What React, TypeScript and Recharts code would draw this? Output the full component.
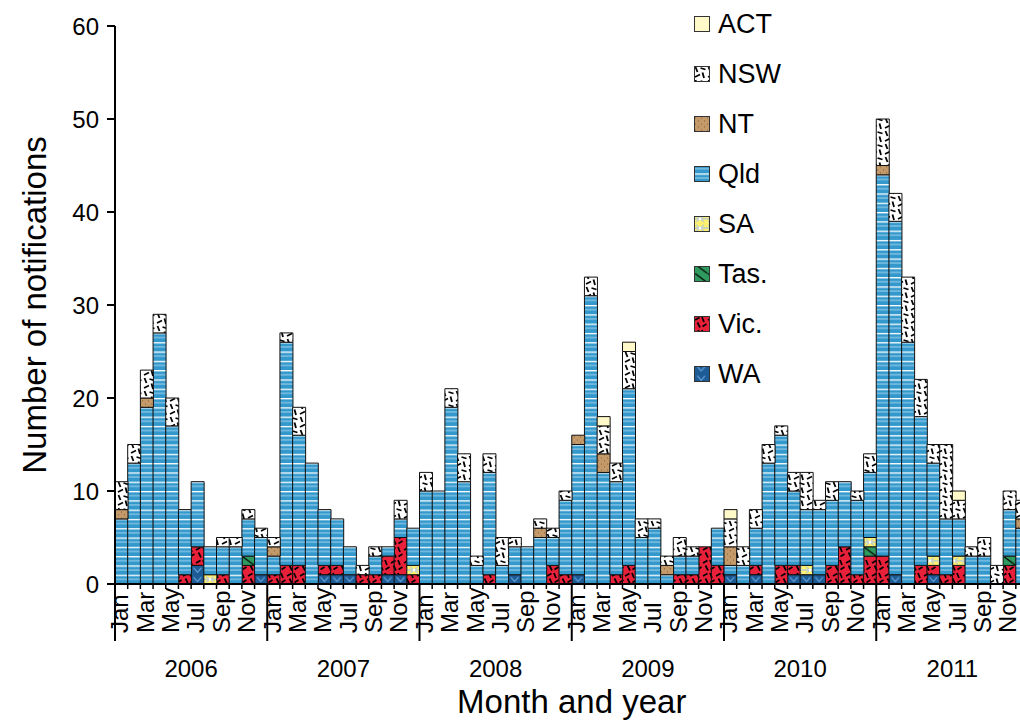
import { BarChart, Bar, XAxis, YAxis, Legend } from 'recharts'

const FONT = '"Liberation Sans", Arial, sans-serif'

const years = ['2006', '2007', '2008', '2009', '2010', '2011']
const monthNames = ['Jan', 'Feb', 'Mar', 'Apr', 'May', 'Jun', 'Jul', 'Aug', 'Sep', 'Oct', 'Nov', 'Dec']
const yTicks = [0, 10, 20, 30, 40, 50, 60]

// notifications per month, Jan 2006 .. Dec 2011 (one row per year)
const wa = [
  0, 0, 0, 0, 0, 0, 2, 0, 0, 0, 0, 1,
  0, 0, 0, 0, 1, 1, 1, 0, 0, 1, 1, 0,
  0, 0, 0, 0, 0, 0, 0, 1, 0, 0, 0, 0,
  1, 0, 0, 0, 0, 0, 0, 0, 0, 0, 0, 0,
  1, 0, 1, 0, 0, 1, 1, 1, 0, 0, 0, 0,
  0, 1, 0, 0, 1, 0, 0, 0, 0, 0, 0, 0,
]
const vic = [
  0, 0, 0, 0, 0, 1, 2, 0, 1, 0, 2, 0,
  1, 2, 2, 0, 1, 1, 0, 1, 1, 2, 4, 1,
  0, 0, 0, 0, 0, 1, 0, 0, 0, 0, 2, 1,
  0, 0, 0, 1, 2, 0, 0, 0, 1, 1, 4, 2,
  0, 0, 1, 0, 2, 1, 0, 0, 2, 4, 1, 3,
  3, 0, 0, 2, 1, 1, 2, 0, 0, 0, 2, 0,
]
const tas = [
  0, 0, 0, 0, 0, 0, 0, 0, 0, 0, 1, 0,
  0, 0, 0, 0, 0, 0, 0, 0, 0, 0, 0, 0,
  0, 0, 0, 0, 0, 0, 0, 0, 0, 0, 0, 0,
  0, 0, 0, 0, 0, 0, 0, 0, 0, 0, 0, 0,
  0, 0, 0, 0, 0, 0, 0, 0, 0, 0, 0, 1,
  0, 0, 0, 0, 0, 0, 0, 0, 0, 0, 1, 0,
]
const sa = [
  0, 0, 0, 0, 0, 0, 0, 1, 0, 0, 0, 0,
  0, 0, 0, 0, 0, 0, 0, 0, 0, 0, 0, 1,
  0, 0, 0, 0, 0, 0, 0, 0, 0, 0, 0, 0,
  0, 0, 0, 0, 0, 0, 0, 0, 0, 0, 0, 0,
  0, 0, 0, 0, 0, 0, 1, 0, 0, 0, 0, 1,
  0, 0, 0, 0, 1, 0, 1, 0, 0, 0, 0, 0,
]
const qld = [
  7, 13, 19, 27, 17, 7, 7, 3, 3, 4, 4, 4,
  2, 24, 14, 13, 6, 5, 3, 0, 2, 1, 2, 4,
  10, 10, 19, 11, 2, 11, 2, 3, 4, 5, 3, 8,
  14, 31, 12, 10, 19, 5, 6, 1, 2, 2, 0, 4,
  1, 2, 4, 13, 14, 8, 6, 7, 7, 7, 8, 7,
  41, 38, 26, 16, 10, 6, 4, 3, 3, 0, 5, 6,
]
const nt = [
  1, 0, 1, 0, 0, 0, 0, 0, 0, 0, 0, 0,
  1, 0, 0, 0, 0, 0, 0, 0, 0, 0, 0, 0,
  0, 0, 0, 0, 0, 0, 0, 0, 0, 1, 0, 0,
  1, 0, 2, 0, 0, 0, 0, 1, 0, 0, 0, 0,
  2, 0, 0, 0, 0, 0, 0, 0, 0, 0, 0, 0,
  1, 0, 0, 0, 0, 0, 0, 0, 0, 0, 0, 1,
]
const nsw = [
  3, 2, 3, 2, 3, 0, 0, 0, 1, 1, 1, 1,
  1, 1, 3, 0, 0, 0, 0, 1, 1, 0, 2, 0,
  2, 0, 2, 3, 1, 2, 3, 1, 0, 1, 1, 1,
  0, 2, 3, 2, 4, 2, 1, 1, 2, 1, 0, 0,
  3, 2, 2, 2, 1, 2, 4, 1, 2, 0, 1, 2,
  5, 3, 7, 4, 2, 8, 2, 1, 2, 2, 2, 2,
]
const act = [
  0, 0, 0, 0, 0, 0, 0, 0, 0, 0, 0, 0,
  0, 0, 0, 0, 0, 0, 0, 0, 0, 0, 0, 0,
  0, 0, 0, 0, 0, 0, 0, 0, 0, 0, 0, 0,
  0, 0, 1, 0, 1, 0, 0, 0, 0, 0, 0, 0,
  1, 0, 0, 0, 0, 0, 0, 0, 0, 0, 0, 0,
  0, 0, 0, 0, 0, 0, 1, 0, 0, 0, 0, 0,
]

// bottom to top
const series = [
  { key: 'wa', name: 'WA', values: wa, fill: 'url(#pWA)' },
  { key: 'vic', name: 'Vic.', values: vic, fill: 'url(#pVic)' },
  { key: 'tas', name: 'Tas.', values: tas, fill: 'url(#pTas)' },
  { key: 'sa', name: 'SA', values: sa, fill: 'url(#pSA)' },
  { key: 'qld', name: 'Qld', values: qld, fill: 'url(#pQld)' },
  { key: 'nt', name: 'NT', values: nt, fill: 'url(#pNT)' },
  { key: 'nsw', name: 'NSW', values: nsw, fill: 'url(#pNSW)' },
  { key: 'act', name: 'ACT', values: act, fill: '#fff8c8' },
]

const data = years.flatMap((y, yi) =>
  monthNames.map((m, mi) => {
    const i = yi * 12 + mi
    const row: Record<string, any> = { key: `${m} ${y}` }
    series.forEach((s) => (row[s.key] = s.values[i]))
    return row
  })
)

// layout
const CHART_W = 1032
const CHART_H = 720
const Y_W = 115
const TOP = 26
const RIGHT = 3.5
const X_H = 136
const PLOT_W = CHART_W - Y_W - RIGHT
const BAND = PLOT_W / data.length
const BASE_Y = CHART_H - X_H
const UNIT = (BASE_Y - TOP) / 60

function MonthTick({ x, y, payload }: any) {
  const i = payload.index
  const m = i % 12
  const left = x - BAND / 2
  return (
    <g>
      <line x1={left} y1={y} x2={left} y2={y + (m === 0 ? 57 : 5)} stroke="#000" strokeWidth={m === 0 ? 2 : 1.5} />
      {m % 2 === 0 && (
        <text
          transform={`translate(${x + 7},${y + 49}) rotate(-90)`}
          textAnchor="start"
          fontSize={24}
          fontFamily={FONT}
          fill="#000"
        >
          {monthNames[m]}
        </text>
      )}
      {m === 5 && (
        <text x={x + BAND / 2} y={y + 93} textAnchor="middle" fontSize={24} fontFamily={FONT} fill="#000">
          {years[Math.floor(i / 12)]}
        </text>
      )}
    </g>
  )
}

const xTitle = (props: any) => {
  const vb = props.viewBox
  return (
    <text x={vb.x + vb.width / 2} y={vb.y + 129} textAnchor="middle" fontSize={33} fontFamily={FONT} fill="#000">
      Month and year
    </text>
  )
}

const yTitle = (props: any) => {
  const vb = props.viewBox
  return (
    <text
      transform={`translate(${vb.x + 46},${vb.y + vb.height / 2}) rotate(-90)`}
      textAnchor="middle"
      fontSize={33}
      fontFamily={FONT}
      fill="#000"
    >
      Number of notifications
    </text>
  )
}

function LegendBox() {
  return (
    <div style={{ fontFamily: FONT, fontSize: 27, color: '#000' }}>
      {[...series].reverse().map((s) => (
        <div key={s.key} style={{ display: 'flex', alignItems: 'center', height: 50 }}>
          <svg width={16} height={16} style={{ marginRight: 8 }}>
            <rect x={0.5} y={0.5} width={15} height={15} fill={s.fill} stroke="#333" strokeWidth={1} />
          </svg>
          <span>{s.name}</span>
        </div>
      ))}
    </div>
  )
}

export default function App() {
  return (
    <div style={{ position: 'absolute', left: 0, top: 0, width: 1020, height: 720, overflow: 'hidden', background: '#fff' }}>
      <BarChart
        width={CHART_W}
        height={CHART_H}
        data={data}
        margin={{ top: TOP, right: RIGHT, left: 0, bottom: 0 }}
        barCategoryGap={0}
        barGap={0}
      >
        <defs>
          <pattern id="pQld" patternUnits="userSpaceOnUse" width={8} height={UNIT} y={BASE_Y}>
            <rect width={8} height={UNIT} fill="#3399cc" />
            <rect y={0} width={8} height={1.3} fill="#ffffff" />
            <rect y={UNIT / 2 - 0.5} width={8} height={1} fill="#a3d0ee" />
          </pattern>
          <pattern id="pNSW" patternUnits="userSpaceOnUse" width={13} height={13}>
            <rect width={13} height={13} fill="#ffffff" />
            <g stroke="#000" strokeWidth={1.8}>
              <line x1={1.5} y1={1} x2={3.5} y2={6} />
              <line x1={6.5} y1={2} x2={11.5} y2={3.5} />
              <line x1={8.5} y1={6.5} x2={10} y2={12} />
              <line x1={1} y1={11} x2={6} y2={8.5} />
            </g>
          </pattern>
          <pattern id="pVic" patternUnits="userSpaceOnUse" width={13} height={13}>
            <rect width={13} height={13} fill="#e8203a" />
            <g stroke="#000" strokeWidth={1.7}>
              <line x1={1} y1={4} x2={5.5} y2={1.5} />
              <line x1={8} y1={1} x2={10} y2={6} />
              <line x1={3.5} y1={6.5} x2={6} y2={11.5} />
              <line x1={8.5} y1={10.5} x2={12.5} y2={8} />
            </g>
          </pattern>
          <pattern id="pNT" patternUnits="userSpaceOnUse" width={6} height={6}>
            <rect width={6} height={6} fill="#c49a6a" />
            <circle cx={1.5} cy={2} r={0.6} fill="#7d5b36" />
            <circle cx={4.5} cy={4.8} r={0.6} fill="#7d5b36" />
          </pattern>
          <pattern id="pSA" patternUnits="userSpaceOnUse" width={12} height={UNIT} y={BASE_Y}>
            <rect width={12} height={UNIT} fill="#fff06e" />
            <line x1={0} y1={UNIT / 2} x2={12} y2={UNIT / 2} stroke="#a9c4ea" strokeWidth={1.2} />
            <path d={`M2 1.5 L6 ${UNIT / 2} L2 ${UNIT - 1.5} M10 1.5 L6 ${UNIT / 2} L10 ${UNIT - 1.5}`} stroke="#a9c4ea" strokeWidth={1} fill="none" />
            <circle cx={6} cy={UNIT / 2} r={1.4} fill="#ffffff" />
          </pattern>
          <pattern id="pTas" patternUnits="userSpaceOnUse" width={BAND} height={UNIT} x={Y_W} y={BASE_Y}>
            <rect width={BAND} height={UNIT} fill="#2f9a5e" />
            <line x1={0} y1={0} x2={BAND} y2={UNIT} stroke="#000" strokeWidth={1.3} />
          </pattern>
          <pattern id="pWA" patternUnits="userSpaceOnUse" width={BAND} height={UNIT} x={Y_W} y={BASE_Y}>
            <rect width={BAND} height={UNIT} fill="#1d5b96" />
            <path d={`M2.5 2.5 L${BAND / 2} ${UNIT - 2.5} L${BAND - 2.5} 2.5`} stroke="#6aa6dd" strokeWidth={1.1} fill="none" />
          </pattern>
        </defs>
        <XAxis
          dataKey="key"
          interval={0}
          height={X_H}
          tickLine={false}
          tickSize={0}
          tickMargin={0}
          axisLine={{ stroke: '#000', strokeWidth: 2 }}
          tick={<MonthTick />}
          label={xTitle}
        />
        <YAxis
          width={Y_W}
          domain={[0, 60]}
          ticks={yTicks}
          interval={0}
          tickSize={8}
          tickMargin={8}
          axisLine={{ stroke: '#000', strokeWidth: 2 }}
          tickLine={{ stroke: '#000', strokeWidth: 2 }}
          tick={{ fontSize: 24, fontFamily: FONT, fill: '#000' }}
          label={yTitle}
        />
        <Legend
          content={<LegendBox />}
          layout="vertical"
          align="center"
          verticalAlign="middle"
          wrapperStyle={{ left: 694, top: -1, width: 160 }}
        />
        {series.map((s) => (
          <Bar
            key={s.key}
            dataKey={s.key}
            name={s.name}
            stackId="a"
            fill={s.fill}
            stroke="#111"
            strokeWidth={1}
            isAnimationActive={false}
          />
        ))}
      </BarChart>
    </div>
  )
}
